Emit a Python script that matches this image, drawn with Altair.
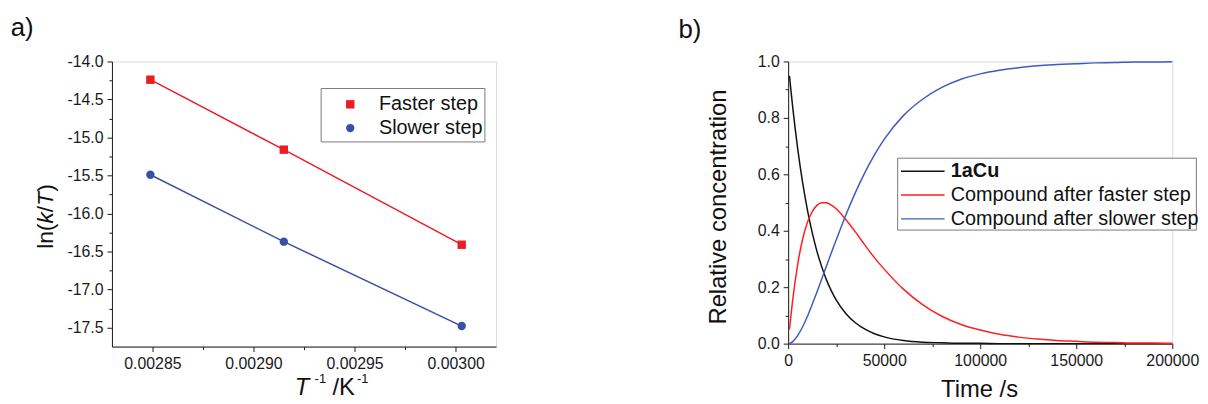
import altair as alt
import pandas as pd

FONT = "Liberation Sans"
INK = "#1a1a1a"

# ---------------- Panel a data ----------------
inv_T = [0.002849, 0.002915, 0.003003]
ln_faster = [-14.24, -15.16, -16.41]
ln_slower = [-15.49, -16.37, -17.48]
series_a = ["Faster step", "Slower step"]
colors_a = ["#ec1c24", "#3a50a6"]
shapes_a = ["square", "circle"]

xa_ticks = [0.00285, 0.002875, 0.0029, 0.002925, 0.00295, 0.002975, 0.003]
ya_ticks = [-14.0, -14.25, -14.5, -14.75, -15.0, -15.25, -15.5, -15.75, -16.0,
            -16.25, -16.5, -16.75, -17.0, -17.25, -17.5]

# ---------------- Panel b data ----------------
time_s = [700, 1500, 2500, 5000, 7500, 10000, 12500, 15000, 17500, 20000, 22500,
          25000, 30000, 35000, 40000, 45000, 50000, 60000, 70000, 80000, 90000,
          100000, 110000, 120000, 130000, 140000, 150000, 160000, 170000, 180000,
          190000, 200000]
c_1aCu = [0.949, 0.894, 0.830, 0.689, 0.572, 0.475, 0.394, 0.327, 0.272, 0.225, 0.187,
          0.155, 0.107, 0.074, 0.051, 0.035, 0.024, 0.011, 0.005, 0.003, 0.001,
          0.001, 0.0, 0.0, 0.0, 0.0, 0.0, 0.0, 0.0, 0.0,
          0.0, 0.0]
c_faster = [0.050, 0.103, 0.162, 0.282, 0.369, 0.429, 0.467, 0.490, 0.499, 0.499, 0.491,
            0.478, 0.440, 0.396, 0.349, 0.304, 0.264, 0.193, 0.138, 0.097, 0.068,
            0.048, 0.033, 0.023, 0.016, 0.011, 0.008, 0.005, 0.004, 0.002,
            0.002, 0.001]
c_slower = [0.001, 0.003, 0.008, 0.029, 0.059, 0.096, 0.139, 0.183, 0.229, 0.276, 0.322,
            0.367, 0.455, 0.535, 0.607, 0.670, 0.724, 0.808, 0.866, 0.908, 0.937,
            0.956, 0.969, 0.978, 0.985, 0.989, 0.992, 0.995, 0.996, 0.998,
            0.998, 0.999]
series_b = ["1aCu", "Compound after faster step", "Compound after slower step"]
colors_b = ["#111111", "#ff1f1f", "#3e5cc0"]

xb_ticks = [0, 25000, 50000, 75000, 100000, 125000, 150000, 175000, 200000]
yb_ticks = [0.0, 0.1, 0.2, 0.3, 0.4, 0.5, 0.6, 0.7, 0.8, 0.9, 1.0]

# ---------------- geometry ----------------
WA, HA = 388, 288
WB, HB = 388, 285


def one(label):
    return pd.DataFrame({"label": [label]})


def txt(label, x, y, size, angle=0, align="left", baseline="alphabetic",
        style="normal", weight="normal"):
    kw = dict(fontSize=size, font=FONT, color="#111111", align=align,
              baseline=baseline, fontStyle=style, fontWeight=weight)
    if angle:
        kw["angle"] = angle
    return alt.Chart(one(label)).mark_text(**kw).encode(
        x=alt.value(x), y=alt.value(y), text="label:N")


def axis(values, fmt, major_test):
    return alt.Axis(
        values=values, format=fmt, title=None, grid=False,
        labelFontSize=16, labelFont=FONT, labelColor=INK,
        domainColor=INK, tickColor=INK, domainWidth=1, tickWidth=1,
        labelPadding=4, labelOverlap=False, labelFlush=False,
        tickSize={"condition": {"test": major_test, "value": 5}, "value": 3},
        labelExpr=f"({major_test}) ? replace(datum.label, '\u2212', '-') : ''")


# ---------------- Panel a ----------------
df_a = pd.DataFrame({
    "invT": inv_T * 2,
    "lnkT": ln_faster + ln_slower,
    "step": [series_a[0]] * 3 + [series_a[1]] * 3,
})

xa = alt.X("invT:Q",
           scale=alt.Scale(domain=[0.00283, 0.00302], nice=False, zero=False),
           axis=axis(xa_ticks, ".5f",
                     "abs(datum.value/0.00005 - round(datum.value/0.00005)) < 0.01"))
ya = alt.Y("lnkT:Q",
           scale=alt.Scale(domain=[-17.75, -14.0], nice=False, zero=False),
           axis=axis(ya_ticks, ".1f",
                     "abs(datum.value*2 - round(datum.value*2)) < 0.01"))
col_a = alt.Color("step:N", scale=alt.Scale(domain=series_a, range=colors_a), legend=None)

lines_a = alt.Chart(df_a).mark_line(strokeWidth=1.5).encode(x=xa, y=ya, color=col_a)
pts_a = alt.Chart(df_a).mark_point(filled=True, size=72, opacity=1).encode(
    x=xa, y=ya, color=col_a,
    shape=alt.Shape("step:N", scale=alt.Scale(domain=series_a, range=shapes_a), legend=None))

box_a = alt.Chart(one("box")).mark_rect(fill="white", stroke="#7a7a7a", strokeWidth=1).encode(
    x=alt.value(211.3), x2=alt.value(376.7), y=alt.value(27.3), y2=alt.value(81.3))
leg_a = [box_a]
for i, (name, c, s) in enumerate(zip(series_a, colors_a, shapes_a)):
    yy = 43.3 + 24 * i
    leg_a.append(alt.Chart(one(name)).mark_point(filled=True, size=72, opacity=1, color=c, shape=s)
                 .encode(x=alt.value(240.7), y=alt.value(yy)))
    leg_a.append(txt(name, 269.7, yy, 20, baseline="middle"))

titles_a = [
    txt("a)", -102.3, -33.5, 26, baseline="middle"),
    # y title  ln(k/T)
    txt("ln(", -59.8, 189.3, 23, angle=270),
    txt("k", -59.8, 163.7, 23, angle=270, style="italic"),
    txt("/", -59.8, 152.2, 23, angle=270),
    txt("T", -59.8, 145.8, 23, angle=270, style="italic"),
    txt(")", -59.8, 131.7, 23, angle=270),
    # x title  T^-1 /K^-1
    txt("T", 184.7, 337.3, 24, style="italic"),
    txt("-1", 204.7, 324.5, 13),
    txt("/K", 222.7, 337.3, 24),
    txt("-1", 247.4, 324.5, 13),
]

panel_a = alt.layer(lines_a, pts_a, *leg_a, *titles_a).properties(width=WA, height=HA)

# ---------------- Panel b ----------------
rows = []
for name, vals in zip(series_b, [c_1aCu, c_faster, c_slower]):
    for t, v in zip(time_s, vals):
        rows.append({"t": t, "c": v, "curve": name})
df_b = pd.DataFrame(rows)

xb = alt.X("t:Q", scale=alt.Scale(domain=[0, 200000], nice=False, zero=False),
           axis=axis(xb_ticks, "d", "datum.value % 50000 == 0"))
yb = alt.Y("c:Q", scale=alt.Scale(domain=[0, 1], nice=False, zero=False),
           axis=axis(yb_ticks, ".1f",
                     "abs(datum.value*5 - round(datum.value*5)) < 0.01"))
col_b = alt.Color("curve:N", scale=alt.Scale(domain=series_b, range=colors_b), legend=None)

lines_b = alt.Chart(df_b).mark_line(strokeWidth=1.5, interpolate="monotone").encode(
    x=xb, y=yb, color=col_b, order="t:Q")

box_b = alt.Chart(one("box")).mark_rect(fill="white", stroke="#7a7a7a", strokeWidth=1).encode(
    x=alt.value(110.6), x2=alt.value(412.3), y=alt.value(97.7), y2=alt.value(170.3))
leg_b = [box_b]
for i, (name, c) in enumerate(zip(series_b, colors_b)):
    yy = 111 + 24 * i
    leg_b.append(alt.Chart(one(name)).mark_rule(color=c, strokeWidth=1.5).encode(
        x=alt.value(114), x2=alt.value(158), y=alt.value(yy)))
    leg_b.append(txt(name, 164.3, yy, 20, baseline="middle",
                     weight="bold" if i == 0 else "normal"))

titles_b = [
    txt("b)", -110.7, -31.8, 26, baseline="middle"),
    txt("Relative concentration", -62.7, 147, 24, angle=270, align="center"),
    txt("Time /s", 193.3, 339.3, 24, align="center"),
]

panel_b = alt.layer(lines_b, *leg_b, *titles_b).properties(width=WB, height=HB)

chart = alt.hconcat(panel_a, panel_b, spacing=182,
                    padding={"left": 2, "top": 5, "right": 0, "bottom": 0}
                    ).resolve_scale(color="independent", shape="independent"
                    ).configure_view(stroke=None).configure(font=FONT)

chart.save("out.html", embed_options={"renderer": "svg", "actions": False})
